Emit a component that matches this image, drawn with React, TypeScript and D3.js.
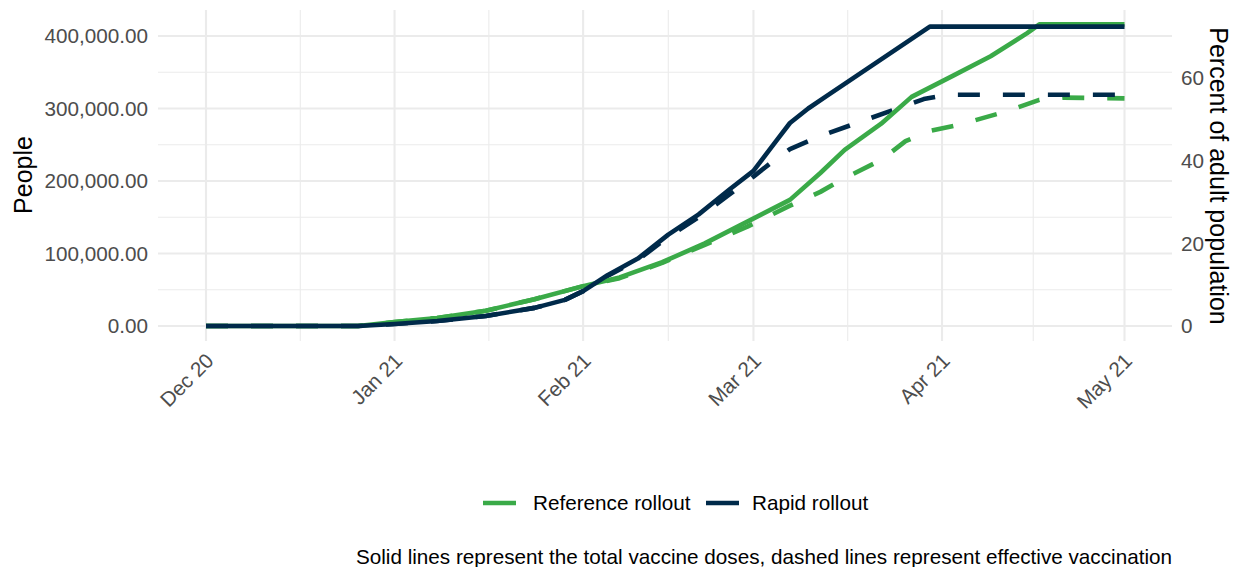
import * as d3 from 'd3';

// Left axis: people; right axis: percent of adult population
const peopleTicks = [0, 100000, 200000, 300000, 400000];
const percentTicks = [0, 20, 40, 60];
const monthTicks = ['2020-12-01', '2021-01-01', '2021-02-01', '2021-03-01', '2021-04-01', '2021-05-01'];

const refTotalDates = ['2020-12-01', '2020-12-26', '2021-01-01', '2021-01-08', '2021-01-16', '2021-01-24', '2021-02-01', '2021-02-07', '2021-02-14', '2021-02-21', '2021-02-28', '2021-03-07', '2021-03-12', '2021-03-16', '2021-03-22', '2021-03-27', '2021-04-03', '2021-04-09', '2021-04-15', '2021-04-17', '2021-05-01'];
const refTotalValues = [0, 0, 5500, 11000, 21000, 37000, 55000, 67000, 88000, 114000, 144000, 174000, 211000, 243000, 279000, 316000, 346000, 372000, 404000, 416000, 416000];

const refEffDates = ['2020-12-01', '2020-12-26', '2021-01-01', '2021-01-08', '2021-01-16', '2021-01-24', '2021-02-01', '2021-02-07', '2021-02-14', '2021-02-21', '2021-02-28', '2021-03-07', '2021-03-12', '2021-03-16', '2021-03-22', '2021-03-26', '2021-03-30', '2021-04-04', '2021-04-12', '2021-04-17', '2021-04-21', '2021-05-01'];
const refEffValues = [0, 0, 5500, 11000, 21000, 37000, 55000, 66000, 87000, 112000, 137000, 166000, 185000, 204000, 229000, 255000, 269000, 278000, 297000, 312000, 315000, 314000];

const rapidTotalDates = ['2020-12-01', '2020-12-26', '2021-01-01', '2021-01-08', '2021-01-16', '2021-01-24', '2021-01-29', '2021-02-01', '2021-02-05', '2021-02-10', '2021-02-15', '2021-02-20', '2021-02-25', '2021-03-01', '2021-03-03', '2021-03-05', '2021-03-07', '2021-03-10', '2021-03-13', '2021-03-30', '2021-05-01'];
const rapidTotalValues = [0, 0, 2800, 6900, 13800, 25000, 36000, 48000, 70000, 93000, 126000, 154000, 188000, 214000, 236000, 258000, 280000, 300000, 317000, 413000, 413000];

const rapidEffDates = ['2020-12-01', '2020-12-26', '2021-01-01', '2021-01-08', '2021-01-16', '2021-01-24', '2021-01-29', '2021-02-01', '2021-02-05', '2021-02-10', '2021-02-15', '2021-02-20', '2021-02-25', '2021-03-01', '2021-03-04', '2021-03-07', '2021-03-12', '2021-03-18', '2021-03-24', '2021-03-29', '2021-04-02', '2021-05-01'];
const rapidEffValues = [0, 0, 2800, 6900, 13800, 25000, 36000, 48000, 69000, 91000, 123000, 150000, 181000, 206000, 226000, 244000, 262000, 280000, 298000, 313000, 319000, 319000];

const GREEN = '#3aaa48';
const NAVY = '#002a4a';
const FONT = '"Liberation Sans", Arial, Helvetica, sans-serif';

type Pt = { date: Date; value: number };
const toPts = (dates: string[], values: number[]): Pt[] =>
  dates.map((d, i) => ({ date: new Date(d + 'T00:00:00Z'), value: values[i] }));

export default function App() {
  const width = 1242;
  const height = 567;
  const panel = { left: 158, right: 1172, top: 10, bottom: 341 };

  const x = d3
    .scaleUtc()
    .domain([new Date('2020-12-01T00:00:00Z'), new Date('2021-05-01T00:00:00Z')])
    .range([206, 1124.5]);
  const y = d3.scaleLinear().domain([0, 400000]).range([326, 36]);
  const yRight = d3.scaleLinear().domain([0, 60]).range([326, 78]);

  const line = d3
    .line<Pt>()
    .x((d) => x(d.date))
    .y((d) => y(d.value));

  const monthDates = monthTicks.map((d) => new Date(d + 'T00:00:00Z'));
  const minorX = monthDates.slice(1).map((d, i) => (x(d) + x(monthDates[i])) / 2);
  const minorY = peopleTicks.slice(1).map((t, i) => (t + peopleTicks[i]) / 2);

  const series = [
    { pts: toPts(refEffDates, refEffValues), color: GREEN, dash: '22 23' },
    { pts: toPts(rapidEffDates, rapidEffValues), color: NAVY, dash: '22 23' },
    { pts: toPts(refTotalDates, refTotalValues), color: GREEN, dash: null },
    { pts: toPts(rapidTotalDates, rapidTotalValues), color: NAVY, dash: null },
  ];

  const fmtPeople = d3.format(',.2f');
  const fmtMonth = d3.utcFormat('%b %y');

  return (
    <svg
      width={width}
      height={height}
      style={{ position: 'absolute', left: 0, top: 0, background: '#fff' }}
      fontFamily={FONT}
    >
      {/* Grid lines */}
      {minorY.map((t) => (
        <line key={'my' + t} x1={panel.left} x2={panel.right} y1={y(t)} y2={y(t)} stroke="#ebebeb" strokeWidth={1.1} />
      ))}
      {minorX.map((v) => (
        <line key={'mx' + v} x1={v} x2={v} y1={panel.top} y2={panel.bottom} stroke="#ebebeb" strokeWidth={1.1} />
      ))}
      {peopleTicks.map((t) => (
        <line key={'gy' + t} x1={panel.left} x2={panel.right} y1={y(t)} y2={y(t)} stroke="#ebebeb" strokeWidth={2.1} />
      ))}
      {monthDates.map((d) => (
        <line key={'gx' + d.getTime()} x1={x(d)} x2={x(d)} y1={panel.top} y2={panel.bottom} stroke="#ebebeb" strokeWidth={2.1} />
      ))}

      {/* Lines */}
      {series.map((s, i) => (
        <path
          key={i}
          d={line(s.pts) ?? ''}
          fill="none"
          stroke={s.color}
          strokeWidth={4.6}
          strokeLinejoin="round"
          strokeDasharray={s.dash ?? undefined}
        />
      ))}

      {/* Left axis */}
      {peopleTicks.map((t) => (
        <text key={'ly' + t} x={148} y={y(t)} dy="0.35em" textAnchor="end" fontSize={20.7} fill="#4d4d4d">
          {fmtPeople(t)}
        </text>
      ))}
      <text transform={`translate(32,175) rotate(-90)`} textAnchor="middle" fontSize={25} fill="#000">
        People
      </text>

      {/* Right axis */}
      {percentTicks.map((t) => (
        <text key={'ry' + t} x={1181} y={yRight(t)} dy="0.35em" textAnchor="start" fontSize={20.7} fill="#4d4d4d">
          {t}
        </text>
      ))}
      <text transform={`translate(1210,176) rotate(90)`} textAnchor="middle" fontSize={25} fill="#000">
        Percent of adult population
      </text>

      {/* Bottom axis */}
      {monthDates.map((d) => (
        <text
          key={'lx' + d.getTime()}
          transform={`translate(${x(d) + 9},362) rotate(-45)`}
          textAnchor="end"
          fontSize={20.7}
          fill="#4d4d4d"
        >
          {fmtMonth(d)}
        </text>
      ))}

      {/* Legend */}
      <line x1={483} x2={516} y1={503} y2={503} stroke={GREEN} strokeWidth={4.6} />
      <text x={533} y={503} dy="0.35em" fontSize={20.7} fill="#000">
        Reference rollout
      </text>
      <line x1={706} x2={739} y1={503} y2={503} stroke={NAVY} strokeWidth={4.6} />
      <text x={752} y={503} dy="0.35em" fontSize={20.7} fill="#000">
        Rapid rollout
      </text>

      {/* Caption */}
      <text x={1172} y={564} textAnchor="end" fontSize={20.7} fill="#000">
        Solid lines represent the total vaccine doses, dashed lines represent effective vaccination
      </text>
    </svg>
  );
}
